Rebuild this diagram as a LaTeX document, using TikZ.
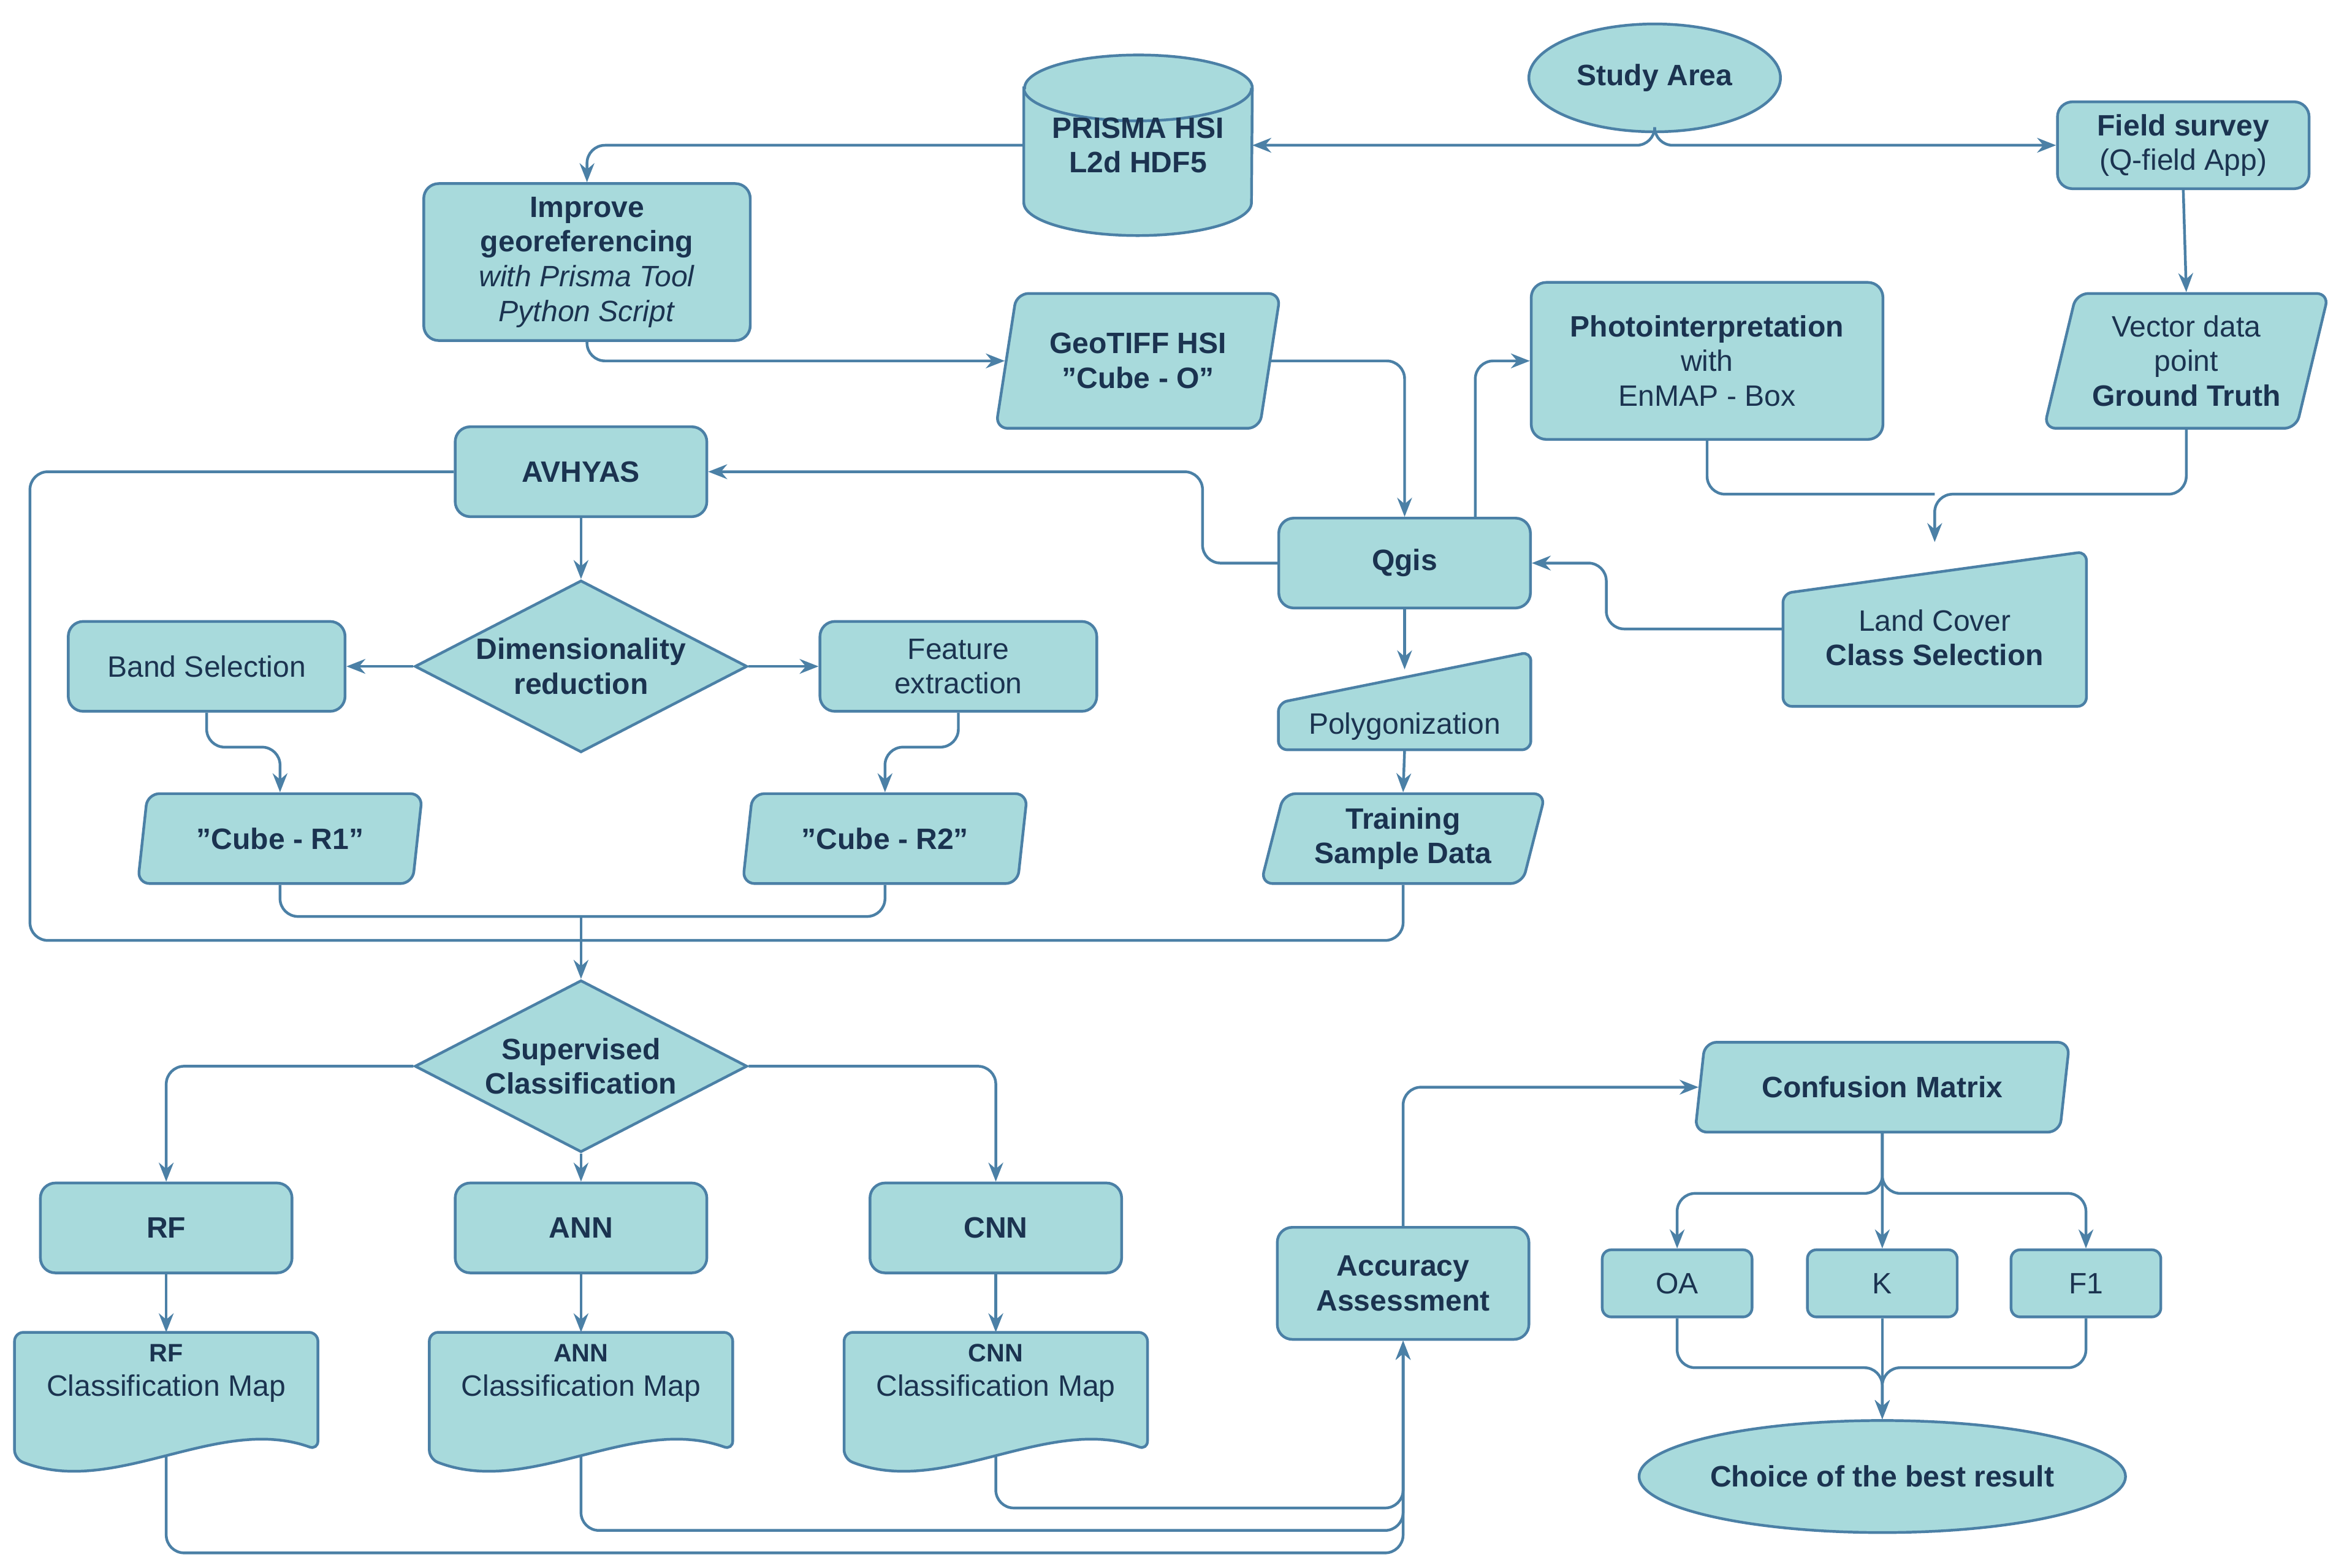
\documentclass[tikz,border=0pt]{standalone}
\usepackage{fontspec}
\setmainfont{Liberation Sans}
\usetikzlibrary{shapes.geometric,arrows.meta,calc,backgrounds}
\definecolor{fc}{HTML}{A8DADC}
\definecolor{bd}{HTML}{4B80A6}
\definecolor{tx}{HTML}{1B3350}
\tikzset{
  block/.style={rectangle, draw=bd, fill=fc, line width=1.3pt, rounded corners=0.25cm, align=center, text=tx, inner sep=2pt},
  io/.style={trapezium, trapezium left angle=72, trapezium right angle=108, trapezium stretches body, draw=bd, fill=fc, line width=1.3pt, rounded corners=0.2cm, align=center, text=tx, inner sep=2pt},
  oval/.style={ellipse, draw=bd, fill=fc, line width=1.3pt, align=center, text=tx, inner sep=0pt},
  dia/.style={diamond, draw=bd, fill=fc, line width=1.3pt, inner sep=0pt, text=tx},
  ghost/.style={rectangle, draw=none, align=center, text=tx, inner sep=0pt},
  shp/.style={draw=bd, fill=fc, line width=1.3pt, rounded corners=0.15cm},
  line/.style={draw=bd, line width=1.3pt, rounded corners=0.3cm},
  arr/.style={line, -{Stealth[length=9pt,width=7pt]}}
}
\begin{document}
\begin{tikzpicture}[x=0.025cm,y=-0.025cm,font=\fontsize{14}{16.5}\selectfont]
\useasboundingbox (0,0) rectangle (1560,1047);
% top row
\node[oval, minimum width=4.2cm, minimum height=1.8cm] (sa) at (1105,52) {\textbf{Study Area}};
\node[ghost, minimum width=3.8cm, minimum height=3.0cm] (pr) at (760,97) {\textbf{PRISMA HSI}\\\textbf{L2d HDF5}};
\node[block, minimum width=4.2cm, minimum height=1.45cm] (fs) at (1458,97) {\textbf{Field survey}\\(Q-field App)};
\node[block, minimum width=5.45cm, minimum height=2.62cm] (imp) at (392,175) {\textbf{Improve}\\\textbf{georeferencing}\\\textit{with Prisma Tool}\\\textit{Python Script}};
\node[io, minimum width=4.75cm, minimum height=2.25cm] (geo) at (760,241) {\textbf{GeoTIFF HSI}\\\textbf{"Cube - O"}};
\node[block, minimum width=5.87cm, minimum height=2.62cm] (ph) at (1140,241) {\textbf{Photointerpretation}\\with\\EnMAP - Box};
\node[io, minimum width=4.75cm, minimum height=2.25cm] (vec) at (1460,241) {Vector data\\point\\\textbf{Ground Truth}};
% middle
\node[block, minimum width=4.2cm, minimum height=1.5cm] (av) at (388,315) {\textbf{AVHYAS}};
\node[block, minimum width=4.2cm, minimum height=1.5cm] (qg) at (938,376) {\textbf{Qgis}};
\node[ghost, minimum width=5.05cm, minimum height=2.57cm] (lc) at (1292,420) {\\[2pt]Land Cover\\\textbf{Class Selection}};
\node[block, minimum width=4.62cm, minimum height=1.5cm] (bs) at (138,445) {Band Selection};
\node[dia, minimum width=5.55cm, minimum height=2.87cm, label={[align=center, text=tx]center:\textbf{Dimensionality}\\\textbf{reduction}}] (dim) at (388,445) {};
\node[block, minimum width=4.62cm, minimum height=1.5cm] (fe) at (640,445) {Feature\\extraction};
\node[ghost, minimum width=4.2cm, minimum height=1.62cm] (pol) at (938,468) {\\[18pt]Polygonization};
\node[io, minimum width=4.75cm, minimum height=1.5cm] (c1) at (187,560) {\textbf{"Cube - R1"}};
\node[io, minimum width=4.75cm, minimum height=1.5cm] (c2) at (591,560) {\textbf{"Cube - R2"}};
\node[io, minimum width=4.75cm, minimum height=1.5cm] (tr) at (937,560) {\textbf{Training}\\\textbf{Sample Data}};
% classification
\node[dia, minimum width=5.55cm, minimum height=2.87cm, label={[align=center, text=tx]center:\textbf{Supervised}\\\textbf{Classification}}] (sup) at (388,712) {};
\node[io, minimum width=6.25cm, minimum height=1.5cm] (cm) at (1257,726) {\textbf{Confusion Matrix}};
\node[block, minimum width=4.2cm, minimum height=1.5cm] (rf) at (111,820) {\textbf{RF}};
\node[block, minimum width=4.2cm, minimum height=1.5cm] (ann) at (388,820) {\textbf{ANN}};
\node[block, minimum width=4.2cm, minimum height=1.5cm] (cnn) at (665,820) {\textbf{CNN}};
\node[block, minimum width=4.2cm, minimum height=1.87cm] (acc) at (937,857) {\textbf{Accuracy}\\\textbf{Assessment}};
\node[block, minimum width=2.5cm, minimum height=1.12cm, rounded corners=0.15cm] (oa) at (1120,857) {OA};
\node[block, minimum width=2.5cm, minimum height=1.12cm, rounded corners=0.15cm] (k) at (1257,857) {K};
\node[block, minimum width=2.5cm, minimum height=1.12cm, rounded corners=0.15cm] (f1) at (1393,857) {F1};
\node[ghost, minimum width=5.05cm, minimum height=2.25cm] (rfm) at (111,935) {{\fontsize{12}{14}\selectfont\textbf{RF}}\\Classification Map\\[12pt]};
\node[ghost, minimum width=5.05cm, minimum height=2.25cm] (annm) at (388,935) {{\fontsize{12}{14}\selectfont\textbf{ANN}}\\Classification Map\\[12pt]};
\node[ghost, minimum width=5.05cm, minimum height=2.25cm] (cnnm) at (665,935) {{\fontsize{12}{14}\selectfont\textbf{CNN}}\\Classification Map\\[12pt]};
\node[oval, minimum width=7.62cm, minimum height=1.87cm] (ch) at (1257,986) {\textbf{Choice of the best result}};
% drawn shapes
\begin{pgfonlayer}{background}
\draw[shp, rounded corners=0pt] ([yshift=-0.55cm]pr.north west) -- ([yshift=0.55cm]pr.south west)
  arc[start angle=180, end angle=360, x radius=1.9cm, y radius=0.55cm] -- ([yshift=-0.55cm]pr.north east)
  arc[start angle=0, end angle=180, x radius=1.9cm, y radius=0.55cm] -- cycle;
\draw[draw=bd, line width=1.3pt] ([yshift=-0.55cm]pr.north west) arc[start angle=180, end angle=360, x radius=1.9cm, y radius=0.55cm];
\draw[shp] (lc.south west) -- ([yshift=-0.7cm]lc.north west) -- (lc.north east) -- (lc.south east) -- cycle;
\draw[shp] (pol.south west) -- ([yshift=-0.85cm]pol.north west) -- (pol.north east) -- (pol.south east) -- cycle;
\foreach \m in {rfm,annm,cnnm}
  \draw[shp] (\m.north west) -- (\m.north east) -- ([yshift=0.3cm]\m.south east)
    .. controls ($(\m.south east)!0.33!(\m.south west)+(0,0.9cm)$) and ($(\m.south east)!0.67!(\m.south west)+(0,-0.5cm)$) .. ([yshift=0.15cm]\m.south west) -- cycle;
\end{pgfonlayer}
% coordinates
\coordinate (mj) at (1292,330);
\coordinate (mjt) at (1292,362);
\coordinate (pt) at (938,447);
\coordinate (m1) at (388,612);
\coordinate (mg) at (388,628);
\coordinate (a1) at (937,1037);
\coordinate (a2) at (937,1022);
\coordinate (a3) at (937,1007);
% connectors
\draw[arr] (sa.south) |- (pr.east);
\draw[arr] (sa.south) |- (fs.west);
\draw[arr] (pr.west) -| (imp.north);
\draw[arr] (imp.south) |- (geo.west);
\draw[arr] (geo.east) -| (qg.north);
\draw[arr] ([xshift=1.18cm]qg.north) |- (ph.west);
\draw[arr] (fs.south) -- (vec.north);
\draw[line] (ph.south) |- (mj);
\draw[arr] (vec.south) |- (mj) -- (mjt);
\draw[arr] (lc.west) -- ++(-118,0) |- (qg.east);
\draw[arr] (qg.west) -- ++(-50,0) |- (av.east);
\draw[arr] (av.south) -- (dim.north);
\draw[arr] (dim.west) -- (bs.east);
\draw[arr] (dim.east) -- (fe.west);
\draw[arr] (bs.south) -- ++(0,23) -| (c1.north);
\draw[arr] (fe.south) -- ++(0,23) -| (c2.north);
\draw[arr] (qg.south) -- (pt);
\draw[arr] (pol.south) -- (tr.north);
\draw[line] (c1.south) |- (m1);
\draw[line] (c2.south) |- (m1);
\draw[line] (av.west) -| (20,628) -- (mg);
\draw[line] (tr.south) |- (mg);
\draw[arr] (m1) -- (sup.north);
\draw[arr] (sup.west) -| (rf.north);
\draw[arr] (sup.east) -| (cnn.north);
\draw[arr] (sup.south) -- (ann.north);
\draw[arr] (rf.south) -- (rfm.north);
\draw[arr] (ann.south) -- (annm.north);
\draw[arr] (cnn.south) -- (cnnm.north);
\draw[arr] ([yshift=0.2cm]rfm.south) |- (a1) -- (acc.south);
\draw[arr] ([yshift=0.2cm]annm.south) |- (a2) -- (acc.south);
\draw[arr] ([yshift=0.2cm]cnnm.south) |- (a3) -- (acc.south);
\draw[arr] (acc.north) |- (cm.west);
\draw[arr] (cm.south) -- ++(0,40) -| (oa.north);
\draw[arr] (cm.south) -- (k.north);
\draw[arr] (cm.south) -- ++(0,40) -| (f1.north);
\draw[arr] (oa.south) -- ++(0,33) -| (ch.north);
\draw[arr] (f1.south) -- ++(0,33) -| (ch.north);
\draw[arr] (k.south) -- (ch.north);
\end{tikzpicture}
\end{document}
